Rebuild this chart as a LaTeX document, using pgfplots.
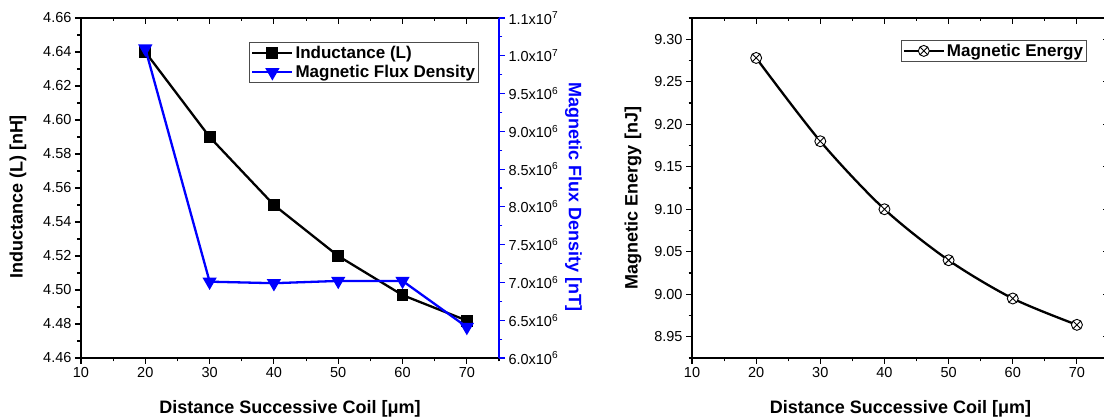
\documentclass[border=0pt]{standalone}
\usepackage{fontspec}
\setmainfont{Liberation Sans}
\usepackage{pgfplots}
\pgfplotsset{compat=1.18}

\pgfplotsset{
  /pgf/number format/assume math mode=true,
  panel/.style={
    scale only axis, anchor=south west,
    xmin=10, xmax=75,
    xtick={10,20,...,70}, minor xtick={15,25,...,75},
    tick align=outside,
    major tick length=6pt, minor tick length=3.5pt,
    tick style={black, line width=1.1pt},
    axis line style={line width=1.5pt},
    ticklabel style={font=\fontsize{14.5}{16}\selectfont},
    label style={font=\fontsize{18}{20}\selectfont\bfseries},
    xlabel style={yshift=-16pt},
    legend style={font=\fontsize{17}{19}\selectfont\bfseries, draw=black!70,
      line width=0.8pt, inner sep=1.5pt, row sep=1.5pt},
    legend cell align=left,
    legend image code/.code={\draw[mark repeat=2,mark phase=2,##1]
      plot coordinates {(0pt,0pt)(20pt,0pt)(40pt,0pt)};},
  },
  topticks/.style={
    scale only axis, anchor=south west,
    xmin=10, xmax=75, ymin=0, ymax=1,
    xtick={10,20,...,70}, minor xtick={15,25,...,75},
    xticklabels={}, tick align=inside,
    major tick length=6pt, minor tick length=3.5pt,
    tick style={black, line width=1.1pt},
  },
}

\begin{document}
\begin{tikzpicture}[x=1pt,y=1pt]
\useasboundingbox (0,0) rectangle (1104,417);

% left panel: inductance
\begin{axis}[panel, at={(81pt,59pt)}, width=418pt, height=340pt,
  ymin=4.46, ymax=4.66, tick pos=left,
  ytick={4.46,4.48,4.50,4.52,4.54,4.56,4.58,4.60,4.62,4.64,4.66},
  minor ytick={4.47,4.49,4.51,4.53,4.55,4.57,4.59,4.61,4.63,4.65},
  yticklabel style={/pgf/number format/fixed, /pgf/number format/fixed zerofill,
    /pgf/number format/precision=2},
  xlabel={Distance Successive Coil [μm]},
  ylabel={Inductance (L) [nH]},
  ylabel style={yshift=10pt, xshift=-9pt}]
\addplot[black, line width=2.3pt, mark=square*, mark size=4.8pt]
  coordinates {(20,4.640)(30,4.590)(40,4.550)(50,4.520)(60,4.497)(70,4.482)};
\end{axis}

\begin{axis}[topticks, at={(81pt,59pt)}, width=418pt, height=340pt,
  axis x line*=top, axis y line=none, axis line style={-, line width=1.5pt}]
\end{axis}

% left panel: flux density on the right axis
\begin{axis}[panel, at={(81pt,59pt)}, width=418pt, height=340pt,
  ymin=6e6, ymax=1.05e7, scaled y ticks=false,
  axis x line=none, axis y line*=right,
  y axis line style={-, blue, line width=1.5pt},
  tick style={blue, line width=1.1pt},
  ytick={6e6,6.5e6,7e6,7.5e6,8e6,8.5e6,9e6,9.5e6,1e7,1.05e7},
  yticklabels={6.0x10\textsuperscript{6},6.5x10\textsuperscript{6},7.0x10\textsuperscript{6},
    7.5x10\textsuperscript{6},8.0x10\textsuperscript{6},8.5x10\textsuperscript{6},
    9.0x10\textsuperscript{6},9.5x10\textsuperscript{6},1.0x10\textsuperscript{7},
    1.1x10\textsuperscript{7}},
  minor ytick={6.25e6,6.75e6,7.25e6,7.75e6,8.25e6,8.75e6,9.25e6,9.75e6,1.025e7},
  ylabel={Magnetic Flux Density [nT]},
  ylabel style={blue, rotate=180, xshift=9pt},
  legend style={at={(0.952,0.929)}, anchor=north east}]
\addlegendimage{black, line width=2.3pt, mark=square*, mark size=4.8pt}
\addlegendentry{Inductance (L)}
\addplot[blue, line width=2.3pt, mark=triangle*, mark size=6pt, mark options={rotate=180}]
  coordinates {(20,1.0095e7)(30,7.01e6)(40,6.99e6)(50,7.02e6)(60,7.02e6)(70,6.41e6)};
\addlegendentry{Magnetic Flux Density}
\end{axis}

% right panel: magnetic energy
\begin{axis}[panel, at={(692pt,59pt)}, width=417pt, height=340pt,
  ymin=8.925, ymax=9.325, tick pos=left,
  ytick={8.95,9.00,9.05,9.10,9.15,9.20,9.25,9.30},
  minor ytick={8.925,8.975,9.025,9.075,9.125,9.175,9.225,9.275,9.325},
  yticklabel style={/pgf/number format/fixed, /pgf/number format/fixed zerofill,
    /pgf/number format/precision=2},
  xlabel={Distance Successive Coil [μm]},
  ylabel={Magnetic Energy [nJ]},
  ylabel style={yshift=6pt, xshift=-10pt},
  legend style={at={(0.947,0.935)}, anchor=north east}]
\addplot[black, line width=2.3pt, smooth, mark=otimes*,
  mark options={line width=0.9pt, fill=white}, mark size=5.5pt]
  coordinates {(20,9.278)(30,9.180)(40,9.100)(50,9.040)(60,8.995)(70,8.964)};
\addlegendentry{Magnetic Energy}
\end{axis}

\begin{axis}[topticks, at={(692pt,59pt)}, width=417pt, height=340pt,
  ymin=8.925, ymax=9.325, tick pos=right, yticklabels={},
  ytick={8.95,9.00,9.05,9.10,9.15,9.20,9.25,9.30},
  minor ytick={8.925,8.975,9.025,9.075,9.125,9.175,9.225,9.275,9.325},
  axis line style={line width=1.5pt}]
\end{axis}
\end{tikzpicture}
\end{document}
